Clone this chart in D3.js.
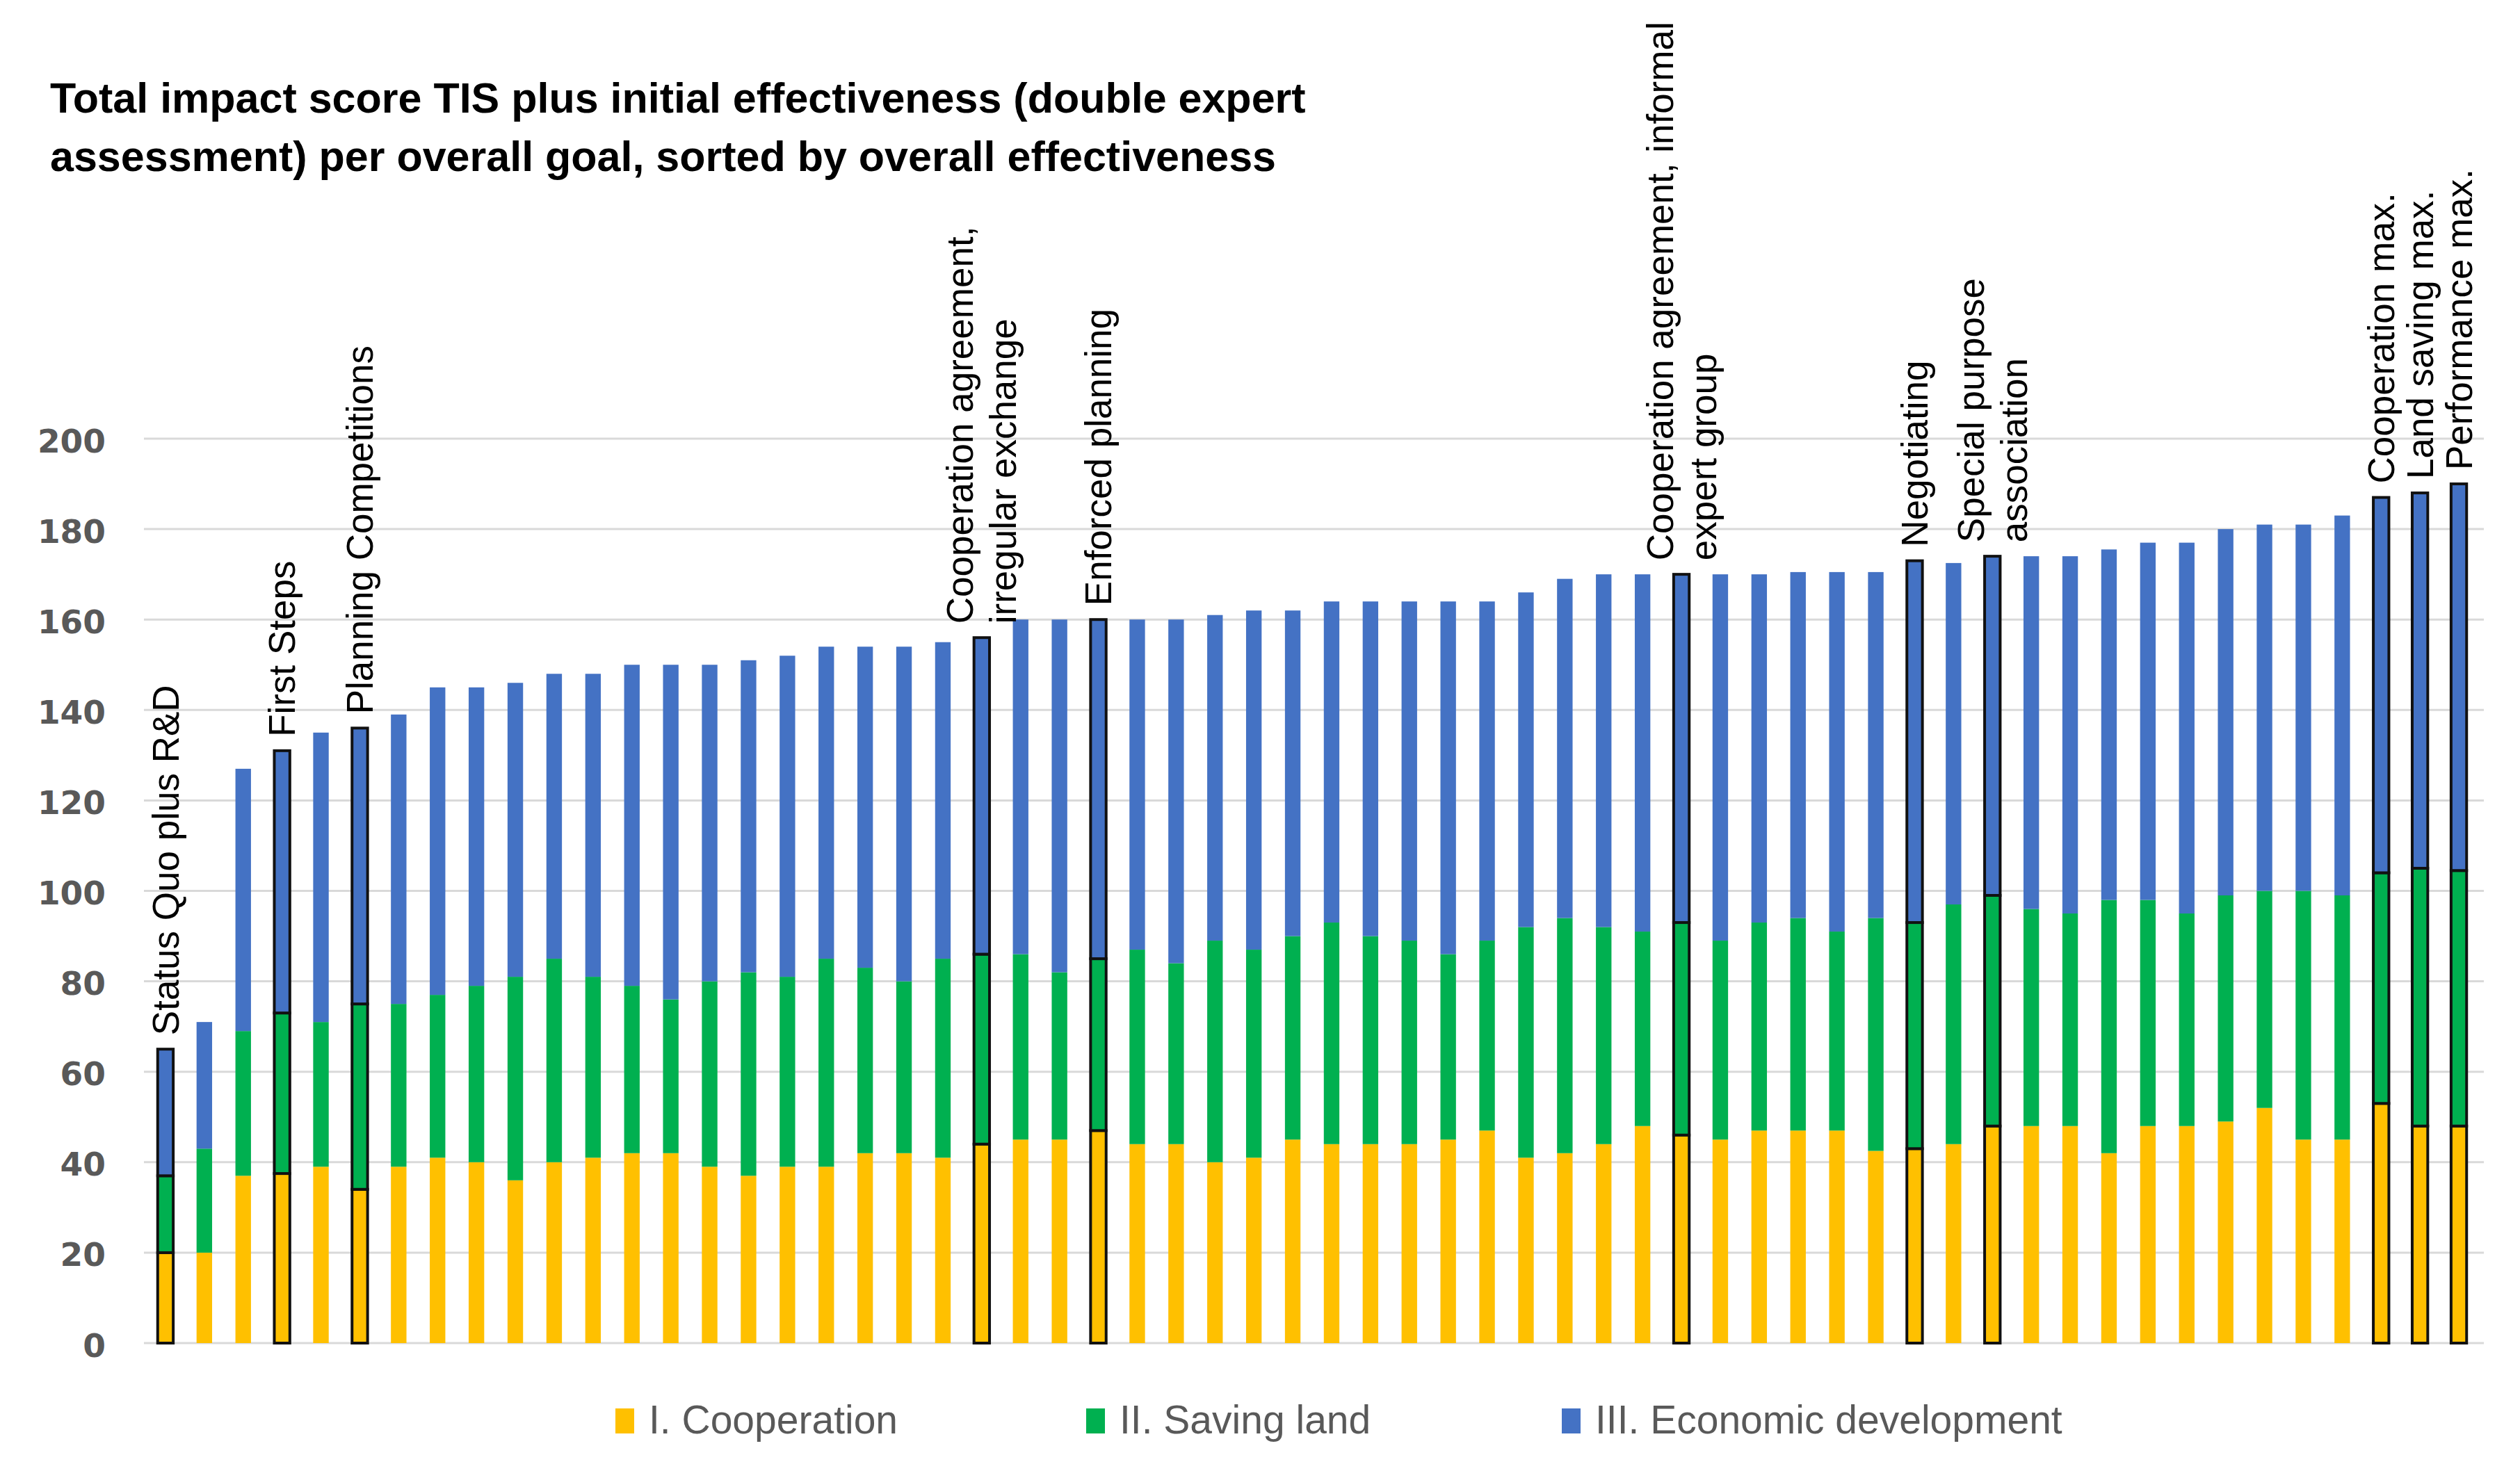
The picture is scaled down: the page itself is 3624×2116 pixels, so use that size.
<!DOCTYPE html>
<html>
<head>
<meta charset="utf-8">
<script src="https://cdn.jsdelivr.net/npm/d3@7/dist/d3.min.js"></script>
<style>
  body { margin: 0; background: #fff; }
  svg { display: block; }
</style>
</head>
<body>
<svg id="chart"></svg>
<script>
// scores per strategy, sorted by overall effectiveness
var cooperation = [20, 20, 37, 37.5, 39, 34, 39, 41, 40, 36, 40, 41, 42, 42, 39, 37, 39, 39, 42, 42,
                   41, 44, 45, 45, 47, 44, 44, 40, 41, 45, 44, 44, 44, 45, 47, 41, 42, 44, 48, 46,
                   45, 47, 47, 47, 42.5, 43, 44, 48, 48, 48, 42, 48, 48, 49, 52, 45, 45, 53, 48, 48];
var savingLand = [17, 23, 32, 35.5, 32, 41, 36, 36, 39, 45, 45, 40, 37, 34, 41, 45, 42, 46, 41, 38,
                  44, 42, 41, 37, 38, 43, 40, 49, 46, 45, 49, 46, 45, 41, 42, 51, 52, 48, 43, 47,
                  44, 46, 47, 44, 51.5, 50, 53, 51, 48, 47, 56, 50, 47, 50, 48, 55, 54, 51, 57, 56.5];
var economicDev = [28, 28, 58, 58, 64, 61, 64, 68, 66, 65, 63, 67, 71, 74, 70, 69, 71, 69, 71, 74,
                   70, 70, 74, 78, 75, 73, 76, 72, 75, 72, 71, 74, 75, 78, 75, 74, 75, 78, 79, 77,
                   81, 77, 76.5, 79.5, 76.5, 80, 75.5, 75, 78, 79, 77.5, 79, 82, 81, 81, 81, 84, 83, 83, 85.5];

var yTicks = [0, 20, 40, 60, 80, 100, 120, 140, 160, 180, 200];
var seriesNames = ["I. Cooperation", "II. Saving land", "III. Economic development"];
var seriesColors = ["#FFC000", "#00B050", "#4472C4"];

// highlighted strategies (bar index) and their labels
var labelledBars = [0, 3, 5, 21, 24, 39, 45, 47, 57, 58, 59];
var labelLines = [
    ["Status Quo plus R&D"],
    ["First Steps"],
    ["Planning Competitions"],
    ["Cooperation agreement,", "irregular exchange"],
    ["Enforced planning"],
    ["Cooperation agreement, informal", "expert group"],
    ["Negotiating"],
    ["Special purpose", "association"],
    ["Cooperation max."],
    ["Land saving max."],
    ["Performance max."]
];

var titleLines = ["Total impact score TIS plus initial effectiveness (double expert",
                  "assessment) per overall goal, sorted by overall effectiveness"];

var width = 3624, height = 2116;
var svg = d3.select("#chart")
    .attr("width", width)
    .attr("height", height);

var rows = cooperation.map(function (c, i) {
    return { idx: i, coop: c, land: savingLand[i], econ: economicDev[i] };
});
var keys = ["coop", "land", "econ"];
var stacked = d3.stack().keys(keys)(rows);

var x = d3.scaleBand()
    .domain(d3.range(rows.length))
    .range([210, 3564])
    .paddingInner(0.6)
    .paddingOuter(0.3);

var y = d3.scaleLinear()
    .domain([0, 200])
    .range([1932, 631]);

// gridlines
svg.append("g")
    .selectAll("line")
    .data(yTicks)
    .join("line")
    .attr("x1", 207)
    .attr("x2", 3572)
    .attr("y1", function (d) { return y(d); })
    .attr("y2", function (d) { return y(d); })
    .attr("stroke", "#d9d9d9")
    .attr("stroke-width", 3);

// y axis labels
var yAxis = d3.axisLeft(y).tickValues(yTicks).tickSize(0).tickPadding(0);
var yg = svg.append("g")
    .attr("transform", "translate(152,4)")
    .call(yAxis);
yg.select(".domain").remove();
yg.selectAll("text")
    .attr("font-family", "DejaVu Sans")
    .attr("font-weight", "bold")
    .attr("font-size", 47)
    .attr("fill", "#595959");

// bars
var outlined = new Set(labelledBars);
svg.append("g")
    .selectAll("g")
    .data(stacked)
    .join("g")
    .attr("fill", function (d, i) { return seriesColors[i]; })
    .selectAll("rect")
    .data(function (d) { return d; })
    .join("rect")
    .attr("x", function (d) { return x(d.data.idx); })
    .attr("width", x.bandwidth())
    .attr("y", function (d) { return y(d[1]); })
    .attr("height", function (d) { return y(d[0]) - y(d[1]); })
    .attr("stroke", function (d) { return outlined.has(d.data.idx) ? "#111" : "none"; })
    .attr("stroke-width", 4);

// rotated labels above highlighted bars
var lineGap = 62;
for (var k = 0; k < labelledBars.length; k++) {
    var bi = labelledBars[k];
    var total = cooperation[bi] + savingLand[bi] + economicDev[bi];
    var cx = x(bi) + x.bandwidth() / 2;
    var ty = y(total) - 20;
    var lines = labelLines[k];
    for (var j = 0; j < lines.length; j++) {
        var lx = cx + (j - (lines.length - 1) / 2) * lineGap;
        svg.append("text")
            .attr("transform", "translate(" + lx + "," + ty + ") rotate(-90)")
            .attr("dy", "0.35em")
            .attr("font-family", "Liberation Sans")
            .attr("font-size", 53)
            .attr("fill", "#000")
            .text(lines[j]);
    }
}

// title
for (var t = 0; t < titleLines.length; t++) {
    svg.append("text")
        .attr("x", 72)
        .attr("y", 162 + t * 84)
        .attr("font-family", "Liberation Sans")
        .attr("font-weight", "bold")
        .attr("font-size", 61)
        .attr("fill", "#000")
        .text(titleLines[t]);
}

// legend
var legendX = [885, 1562, 2246];
var legend = svg.append("g");
for (var s = 0; s < seriesNames.length; s++) {
    legend.append("rect")
        .attr("x", legendX[s])
        .attr("y", 2026)
        .attr("width", 27)
        .attr("height", 36)
        .attr("fill", seriesColors[s]);
    legend.append("text")
        .attr("x", legendX[s] + 48)
        .attr("y", 2062)
        .attr("font-family", "Liberation Sans")
        .attr("font-size", 57)
        .attr("fill", "#595959")
        .text(seriesNames[s]);
}
</script>
</body>
</html>
